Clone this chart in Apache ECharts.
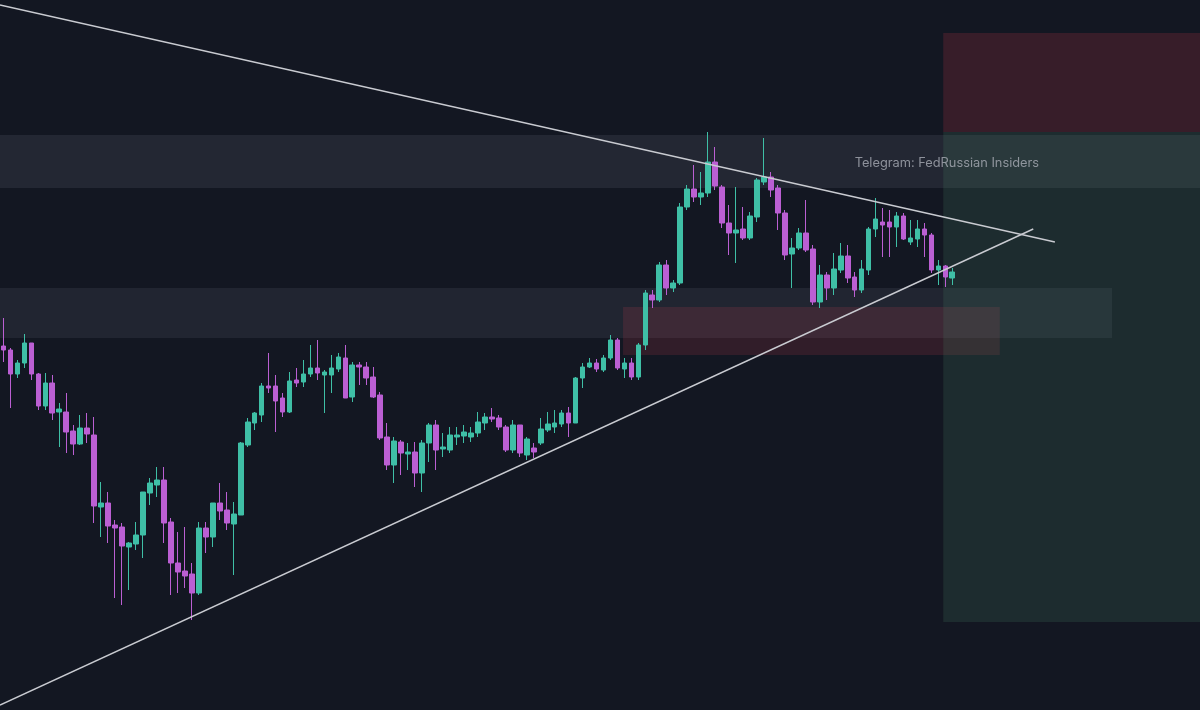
<!DOCTYPE html>
<html>
<head>
<meta charset="utf-8">
<script src="https://cdn.jsdelivr.net/npm/echarts@6/dist/echarts.min.js"></script>
<style>
html,body{margin:0;padding:0;background:#131722;}
#c{width:1200px;height:710px;}
</style>
</head>
<body>
<div id="c"></div>
<script>
// Candles: [open, close, low, high] (arbitrary price units)
const candles = [
[364,360,348,392],[360,336,302,362],[336,347,332,350],[347,367,342,376],[367,336,330,367],
[336,304,300,337],[304,327,300,337],[327,297,290,335],[298,301,263,307],[298,278,257,317],
[279,266,255,285],[266,282,265,295],[282,276,267,297],[275,204,187,293],[203,207,173,228],
[207,184,167,218],[185,182,112,190],[183,164,105,187],[163,167,120,168],[166,175,160,188],
[175,218,152,218],[217,227,205,232],[225,230,213,243],[230,187,167,243],[188,147,115,192],
[147,138,117,178],[139,134,122,183],[136,117,90,147],[117,182,115,188],[182,173,157,188],
[173,207,163,207],[207,199,190,227],[200,187,180,218],[186,196,135,208],[195,267,195,268],
[265,288,263,292],[287,297,280,298],[295,324,288,327],[324,322,317,357],[324,309,278,335],
[312,298,293,317],[298,329,297,338],[330,327,323,342],[328,336,323,350],[336,342,333,365],
[342,337,330,370],[335,338,297,340],[335,342,317,355],[341,353,338,357],[352,312,312,365],
[313,345,308,348],[345,343,325,348],[343,332,325,348],[333,313,312,343],[315,272,270,318],
[273,245,240,287],[245,269,227,273],[268,257,235,270],[256,258,240,267],[258,237,223,268],
[237,267,218,270],[267,285,248,287],[285,260,240,290],[261,263,253,277],[260,275,257,283],
[273,275,265,283],[274,278,267,285],[273,277,268,283],[277,288,273,298],[287,293,280,297],
[293,291,288,302],[292,283,280,295],[283,260,258,285],[260,285,257,290],[285,257,253,285],
[255,271,250,273],[262,258,252,267],[267,281,265,292],[280,286,278,298],[283,287,277,300],
[286,297,283,300],[297,287,273,303],[287,332,287,333],[332,343,322,347],[343,347,342,352],
[347,341,338,351],[340,352,338,355],[352,370,350,375],[370,342,340,372],[341,347,332,352],
[347,333,330,352],[333,365,330,367],[365,417,360,420],[415,410,402,420],[410,445,408,448],
[445,422,415,450],[422,427,418,430],[427,503,425,507],[503,521,500,525],[521,513,508,545],
[513,517,505,538],[517,548,513,578],[548,524,520,563],[523,487,482,525],[487,477,455,505],
[477,480,447,523],[481,472,470,503],[472,494,470,498],[493,530,488,532],[528,533,525,572],
[533,520,513,538],[522,497,480,525],[497,455,450,500],[456,462,422,472],[462,477,460,482],
[477,460,458,510],[461,408,405,465],[408,435,402,445],[435,422,410,438],[422,441,415,457],
[440,454,437,467],[454,432,427,465],[433,420,413,438],[420,441,417,450],[440,481,435,483],
[481,491,473,512],[488,485,453,502],[488,483,453,500],[483,494,463,498],[494,471,470,497],
[468,472,465,490],[471,481,463,490],[481,475,453,487],[475,440,437,477],[440,444,425,450],
[444,433,423,445],[432,438,425,442]
];
const categoryCount = 172;
const categories = Array.from({length: categoryCount}, (_, i) => 'T' + (i + 1));

// Trendlines: [barIndex, price] end points
const upperTrend = [[-0.5, 705], [150.7, 468]];
const lowerTrend = [[-0.5, 5], [147.6, 481]];

// Zones: [[x0, priceA], [x1, priceB]]
const resistanceBand = [[-0.5, 575], [171.5, 522]];
const supportBand = [[-0.5, 422], [158.9, 372]];
const demandZone = [[88.8, 403], [142.8, 355]];
const stopZone = [[134.7, 677], [171.5, 578]];
const targetZone = [[134.7, 578], [171.5, 88]];

const watermark = {text: 'Telegram: FedRussian Insiders', at: [122.0, 547]};

const chart = echarts.init(document.getElementById('c'), null, {renderer: 'canvas'});
chart.setOption({
  backgroundColor: '#131722',
  animation: false,
  grid: {left: 0, right: 0, top: 0, bottom: 0},
  xAxis: [
    {type: 'category', data: categories, show: false, boundaryGap: true},
    {type: 'value', min: -0.5, max: categoryCount - 0.5, show: false}
  ],
  yAxis: {type: 'value', min: 0, max: 710, show: false, splitLine: {show: false}},
  series: [
    {
      type: 'line', xAxisIndex: 1, data: [], silent: true, z: 1,
      markArea: {
        silent: true,
        data: [
          [{coord: resistanceBand[0], itemStyle: {color: 'rgba(200,210,230,0.09)'}}, {coord: resistanceBand[1]}],
          [{coord: supportBand[0], itemStyle: {color: 'rgba(200,210,230,0.08)'}}, {coord: supportBand[1]}],
          [{coord: demandZone[0], itemStyle: {color: 'rgba(190,60,80,0.18)'}}, {coord: demandZone[1]}],
          [{coord: stopZone[0], itemStyle: {color: 'rgba(150,45,60,0.28)'}}, {coord: stopZone[1]}],
          [{coord: targetZone[0], itemStyle: {color: 'rgba(70,130,100,0.2)'}}, {coord: targetZone[1]}]
        ]
      }
    },
    {
      type: 'candlestick', xAxisIndex: 0, data: candles, z: 3,
      barWidth: '74%',
      itemStyle: {
        color: '#3fbfa6', color0: '#bb5fd3',
        borderColor: '#3fbfa6', borderColor0: '#bb5fd3', borderWidth: 1
      }
    },
    {
      type: 'line', xAxisIndex: 1, data: upperTrend, symbol: 'none', z: 4,
      lineStyle: {color: '#c9cbd1', width: 1.4}
    },
    {
      type: 'line', xAxisIndex: 1, data: lowerTrend, symbol: 'none', z: 4,
      lineStyle: {color: '#c9cbd1', width: 1.4}
    },
    {
      type: 'scatter', xAxisIndex: 1, symbolSize: 0, z: 5,
      data: [watermark.at],
      label: {
        show: true, position: 'right', distance: 0,
        formatter: watermark.text,
        color: '#a9adb5', fontSize: 12.8, fontFamily: 'Inter, Roboto, sans-serif'
      }
    }
  ]
});
</script>
</body>
</html>
